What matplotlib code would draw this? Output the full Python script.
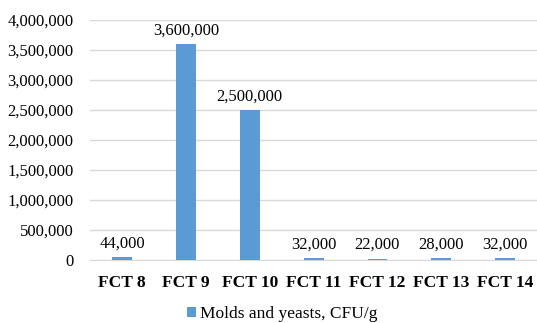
import matplotlib.pyplot as plt
from matplotlib.ticker import FuncFormatter, MultipleLocator

categories = ["FCT 8", "FCT 9", "FCT 10", "FCT 11", "FCT 12", "FCT 13", "FCT 14"]
molds_yeasts = [44000, 3600000, 2500000, 32000, 22000, 28000, 32000]

plt.rcParams['font.family'] = ['Liberation Serif', 'DejaVu Serif']
blue = '#5B9BD5'

fig = plt.figure(figsize=(5.37, 3.23), dpi=100)
ax = fig.add_axes([0.168, 0.195, 0.832, 0.743])

x = range(len(categories))
bars = ax.bar(x, molds_yeasts, width=0.31, color=blue, label="Molds and yeasts, CFU/g", zorder=3)

# value labels above each bar
for xi, v in zip(x, molds_yeasts):
    ax.annotate(f"{v:,}", (xi, v), xytext=(0, 4), textcoords='offset points',
                ha='center', va='bottom', fontsize=12, color='#000000')

ax.set_xlim(-0.5, len(categories) - 0.5)
ax.set_ylim(0, 4000000)
ax.yaxis.set_major_locator(MultipleLocator(500000))
ax.yaxis.set_major_formatter(FuncFormatter(lambda v, p: f"{int(v):,}"))
ax.grid(axis='y', color='#D9D9D9', linewidth=1, zorder=0)

ax.set_xticks(list(x))
ax.set_xticklabels(categories, fontweight='bold', fontsize=12.5)
ax.tick_params(axis='both', length=0)
ax.tick_params(axis='y', labelsize=12, pad=12)
ax.tick_params(axis='x', pad=11)

for s in ['top', 'right', 'left']:
    ax.spines[s].set_visible(False)
ax.spines['bottom'].set_color('#D9D9D9')

fig.legend(loc='lower center', bbox_to_anchor=(0.525, -0.045), frameon=False,
           fontsize=12.5, handlelength=0.55, handleheight=0.55, handletextpad=0.2)

fig.savefig("out.png", dpi=100)
